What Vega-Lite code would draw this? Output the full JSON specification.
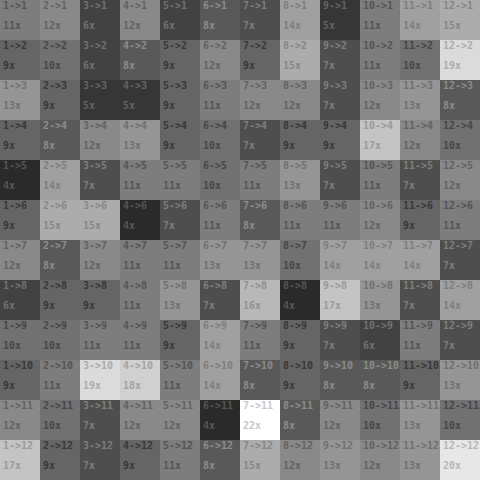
{
  "$schema": "https://vega.github.io/schema/vega-lite/v6.json",
  "width": 480,
  "height": 480,
  "autosize": {"type": "fit", "contains": "padding"},
  "padding": 0,
  "background": "#ffffff",
  "config": {"view": {"stroke": null}},
  "data": {"values": [
    {"f":1,"t":1,"n":11},{"f":2,"t":1,"n":12},{"f":3,"t":1,"n":6},{"f":4,"t":1,"n":12},{"f":5,"t":1,"n":6},{"f":6,"t":1,"n":8},{"f":7,"t":1,"n":7},{"f":8,"t":1,"n":14},{"f":9,"t":1,"n":5},{"f":10,"t":1,"n":11},{"f":11,"t":1,"n":14},{"f":12,"t":1,"n":15},
    {"f":1,"t":2,"n":9},{"f":2,"t":2,"n":10},{"f":3,"t":2,"n":6},{"f":4,"t":2,"n":8},{"f":5,"t":2,"n":9},{"f":6,"t":2,"n":12},{"f":7,"t":2,"n":9},{"f":8,"t":2,"n":15},{"f":9,"t":2,"n":7},{"f":10,"t":2,"n":11},{"f":11,"t":2,"n":10},{"f":12,"t":2,"n":19},
    {"f":1,"t":3,"n":13},{"f":2,"t":3,"n":9},{"f":3,"t":3,"n":5},{"f":4,"t":3,"n":5},{"f":5,"t":3,"n":9},{"f":6,"t":3,"n":11},{"f":7,"t":3,"n":12},{"f":8,"t":3,"n":12},{"f":9,"t":3,"n":7},{"f":10,"t":3,"n":12},{"f":11,"t":3,"n":13},{"f":12,"t":3,"n":8},
    {"f":1,"t":4,"n":9},{"f":2,"t":4,"n":8},{"f":3,"t":4,"n":12},{"f":4,"t":4,"n":13},{"f":5,"t":4,"n":9},{"f":6,"t":4,"n":10},{"f":7,"t":4,"n":7},{"f":8,"t":4,"n":9},{"f":9,"t":4,"n":9},{"f":10,"t":4,"n":17},{"f":11,"t":4,"n":12},{"f":12,"t":4,"n":10},
    {"f":1,"t":5,"n":4},{"f":2,"t":5,"n":14},{"f":3,"t":5,"n":7},{"f":4,"t":5,"n":11},{"f":5,"t":5,"n":11},{"f":6,"t":5,"n":10},{"f":7,"t":5,"n":11},{"f":8,"t":5,"n":13},{"f":9,"t":5,"n":7},{"f":10,"t":5,"n":11},{"f":11,"t":5,"n":7},{"f":12,"t":5,"n":12},
    {"f":1,"t":6,"n":9},{"f":2,"t":6,"n":15},{"f":3,"t":6,"n":15},{"f":4,"t":6,"n":4},{"f":5,"t":6,"n":7},{"f":6,"t":6,"n":11},{"f":7,"t":6,"n":8},{"f":8,"t":6,"n":11},{"f":9,"t":6,"n":11},{"f":10,"t":6,"n":12},{"f":11,"t":6,"n":9},{"f":12,"t":6,"n":11},
    {"f":1,"t":7,"n":12},{"f":2,"t":7,"n":8},{"f":3,"t":7,"n":12},{"f":4,"t":7,"n":11},{"f":5,"t":7,"n":11},{"f":6,"t":7,"n":13},{"f":7,"t":7,"n":13},{"f":8,"t":7,"n":10},{"f":9,"t":7,"n":14},{"f":10,"t":7,"n":14},{"f":11,"t":7,"n":14},{"f":12,"t":7,"n":7},
    {"f":1,"t":8,"n":6},{"f":2,"t":8,"n":9},{"f":3,"t":8,"n":9},{"f":4,"t":8,"n":11},{"f":5,"t":8,"n":13},{"f":6,"t":8,"n":7},{"f":7,"t":8,"n":16},{"f":8,"t":8,"n":4},{"f":9,"t":8,"n":17},{"f":10,"t":8,"n":13},{"f":11,"t":8,"n":7},{"f":12,"t":8,"n":14},
    {"f":1,"t":9,"n":10},{"f":2,"t":9,"n":10},{"f":3,"t":9,"n":11},{"f":4,"t":9,"n":11},{"f":5,"t":9,"n":9},{"f":6,"t":9,"n":14},{"f":7,"t":9,"n":11},{"f":8,"t":9,"n":9},{"f":9,"t":9,"n":7},{"f":10,"t":9,"n":6},{"f":11,"t":9,"n":11},{"f":12,"t":9,"n":7},
    {"f":1,"t":10,"n":9},{"f":2,"t":10,"n":11},{"f":3,"t":10,"n":19},{"f":4,"t":10,"n":18},{"f":5,"t":10,"n":11},{"f":6,"t":10,"n":14},{"f":7,"t":10,"n":8},{"f":8,"t":10,"n":9},{"f":9,"t":10,"n":8},{"f":10,"t":10,"n":8},{"f":11,"t":10,"n":9},{"f":12,"t":10,"n":13},
    {"f":1,"t":11,"n":12},{"f":2,"t":11,"n":10},{"f":3,"t":11,"n":7},{"f":4,"t":11,"n":12},{"f":5,"t":11,"n":12},{"f":6,"t":11,"n":4},{"f":7,"t":11,"n":22},{"f":8,"t":11,"n":8},{"f":9,"t":11,"n":12},{"f":10,"t":11,"n":10},{"f":11,"t":11,"n":13},{"f":12,"t":11,"n":10},
    {"f":1,"t":12,"n":17},{"f":2,"t":12,"n":9},{"f":3,"t":12,"n":7},{"f":4,"t":12,"n":9},{"f":5,"t":12,"n":11},{"f":6,"t":12,"n":8},{"f":7,"t":12,"n":15},{"f":8,"t":12,"n":12},{"f":9,"t":12,"n":13},{"f":10,"t":12,"n":12},{"f":11,"t":12,"n":13},{"f":12,"t":12,"n":20}
  ]},
  "encoding": {
    "x": {"field": "f", "type": "ordinal", "axis": null, "scale": {"paddingInner": 0, "paddingOuter": 0}},
    "y": {"field": "t", "type": "ordinal", "axis": null, "scale": {"paddingInner": 0, "paddingOuter": 0}}
  },
  "layer": [
    {
      "mark": {"type": "rect"},
      "encoding": {
        "color": {"field": "n", "type": "quantitative", "legend": null,
          "scale": {"domain": [4, 22], "range": ["#2a2a2a", "#ffffff"], "interpolate": "rgb"}}
      }
    },
    {
      "mark": {"type": "text", "align": "left", "baseline": "alphabetic", "dx": 3, "dy": 9,
        "font": "DejaVu Sans Mono", "fontWeight": "bold", "fontSize": 10,
        "text": {"expr": "datum.f + '->' + datum.t"}},
      "encoding": {
        "x": {"field": "f", "type": "ordinal", "bandPosition": 0, "axis": null},
        "y": {"field": "t", "type": "ordinal", "bandPosition": 0, "axis": null},
        "color": {"field": "n", "type": "quantitative", "legend": null,
          "scale": {"domain": [4, 8, 9, 14, 22], "range": ["#555555", "#8c8c8c", "#383838", "#7e7e7e", "#c8c8c8"], "interpolate": "rgb"}}
      }
    },
    {
      "mark": {"type": "text", "align": "left", "baseline": "alphabetic", "dx": 3, "dy": 29,
        "font": "DejaVu Sans Mono", "fontWeight": "bold", "fontSize": 10,
        "text": {"expr": "datum.n + 'x'"}},
      "encoding": {
        "x": {"field": "f", "type": "ordinal", "bandPosition": 0, "axis": null},
        "y": {"field": "t", "type": "ordinal", "bandPosition": 0, "axis": null},
        "color": {"field": "n", "type": "quantitative", "legend": null,
          "scale": {"domain": [4, 8, 9, 14, 22], "range": ["#555555", "#8c8c8c", "#383838", "#7e7e7e", "#c8c8c8"], "interpolate": "rgb"}}
      }
    }
  ],
  "resolve": {"scale": {"color": "independent"}}
}
